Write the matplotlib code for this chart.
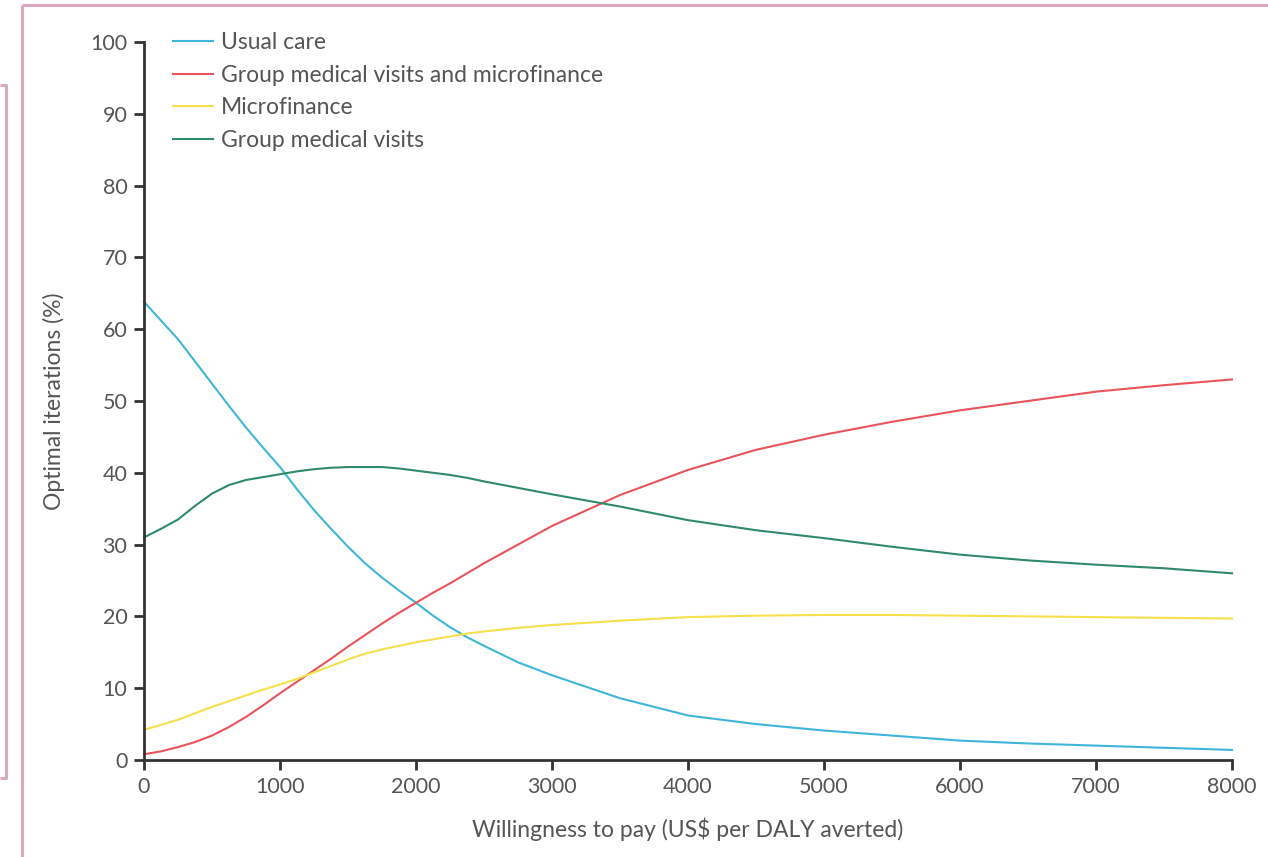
import matplotlib
matplotlib.use("Agg")
import matplotlib.pyplot as plt
from matplotlib.lines import Line2D

plt.rcParams["font.family"] = ["Lato", "DejaVu Sans"]

# willingness to pay (US$ per DALY averted)
wtp = [0, 125, 250, 375, 500, 625, 750, 875, 1000, 1125, 1250, 1375, 1500, 1625,
       1750, 1875, 2000, 2125, 2250, 2375, 2500, 2750, 3000, 3500, 4000, 4500,
       5000, 5500, 6000, 6500, 7000, 7500, 8000]

usual_care = [63.8, 61.2, 58.6, 55.5, 52.4, 49.3, 46.3, 43.5, 40.8, 37.7, 34.8, 32.2,
              29.7, 27.4, 25.4, 23.6, 21.9, 20.1, 18.5, 17.1, 15.9, 13.6, 11.8, 8.6,
              6.2, 5.0, 4.1, 3.4, 2.7, 2.3, 2.0, 1.7, 1.4]
gmv_microfinance = [0.8, 1.2, 1.8, 2.5, 3.4, 4.6, 6.0, 7.6, 9.3, 10.9, 12.5, 14.1,
                    15.8, 17.4, 19.0, 20.5, 21.9, 23.3, 24.6, 26.0, 27.4, 30.0, 32.6,
                    36.9, 40.4, 43.2, 45.3, 47.1, 48.7, 50.0, 51.3, 52.2, 53.0]
microfinance = [4.2, 4.9, 5.6, 6.5, 7.4, 8.2, 9.0, 9.8, 10.5, 11.3, 12.2, 13.1,
                14.0, 14.8, 15.4, 15.9, 16.4, 16.8, 17.2, 17.6, 17.9, 18.4, 18.8,
                19.4, 19.9, 20.1, 20.2, 20.2, 20.1, 20.0, 19.9, 19.8, 19.7]
gmv = [31.0, 32.2, 33.5, 35.4, 37.1, 38.3, 39.0, 39.4, 39.8, 40.2, 40.5, 40.7,
       40.8, 40.8, 40.8, 40.6, 40.3, 40.0, 39.7, 39.3, 38.8, 37.9, 37.0, 35.3,
       33.4, 32.0, 30.9, 29.7, 28.6, 27.8, 27.2, 26.7, 26.0]

series = [
    ("Usual care", usual_care, "#3fb6d9"),
    ("Group medical visits and microfinance", gmv_microfinance, "#e9545c"),
    ("Microfinance", microfinance, "#f6e04c"),
    ("Group medical visits", gmv, "#2f8a68"),
]

text_col = "#555555"
axis_col = "#333333"
frame_col = "#d9a9bf"

fig = plt.figure(figsize=(12.68, 8.57), dpi=100)
ax = fig.add_axes([0.1136, 0.1132, 0.858, 0.8378])

for label, vals, col in series:
    ax.plot(wtp, vals, color=col, lw=1.5, label=label, clip_on=False)

ax.set_xlim(0, 8000)
ax.set_ylim(0, 100)
ax.set_xticks(range(0, 8001, 1000))
ax.set_yticks(range(0, 101, 10))
for side in ("top", "right"):
    ax.spines[side].set_visible(False)
for side in ("left", "bottom"):
    ax.spines[side].set_color(axis_col)
    ax.spines[side].set_linewidth(2)
ax.tick_params(colors=axis_col, width=2, length=7, labelsize=15.5,
               labelcolor=text_col, pad=5)

ax.set_xlabel("Willingness to pay (US$ per DALY averted)", fontsize=16.5,
              color=text_col, labelpad=15)
ax.set_ylabel("Optimal iterations (%)", fontsize=16.5, color=text_col, labelpad=18)

ax.legend(loc="upper left", bbox_to_anchor=(0.018, 1.026), frameon=False,
          fontsize=16.5, labelcolor=text_col, handlelength=1.75, handletextpad=0.35,
          labelspacing=0.5, borderaxespad=0)

# pink page frame
W, H = 1268, 857
def px_line(xs, ys):
    fig.add_artist(Line2D([x / W for x in xs], [1 - y / H for y in ys],
                          color=frame_col, lw=2.2, transform=fig.transFigure,
                          solid_capstyle="butt"))

px_line([22, W + 5], [5, 5])
px_line([22, 22], [5, H + 5])
px_line([0, 6, 6, 0], [85, 85, 778, 778])

fig.savefig("out.png", dpi=100, facecolor="white")
